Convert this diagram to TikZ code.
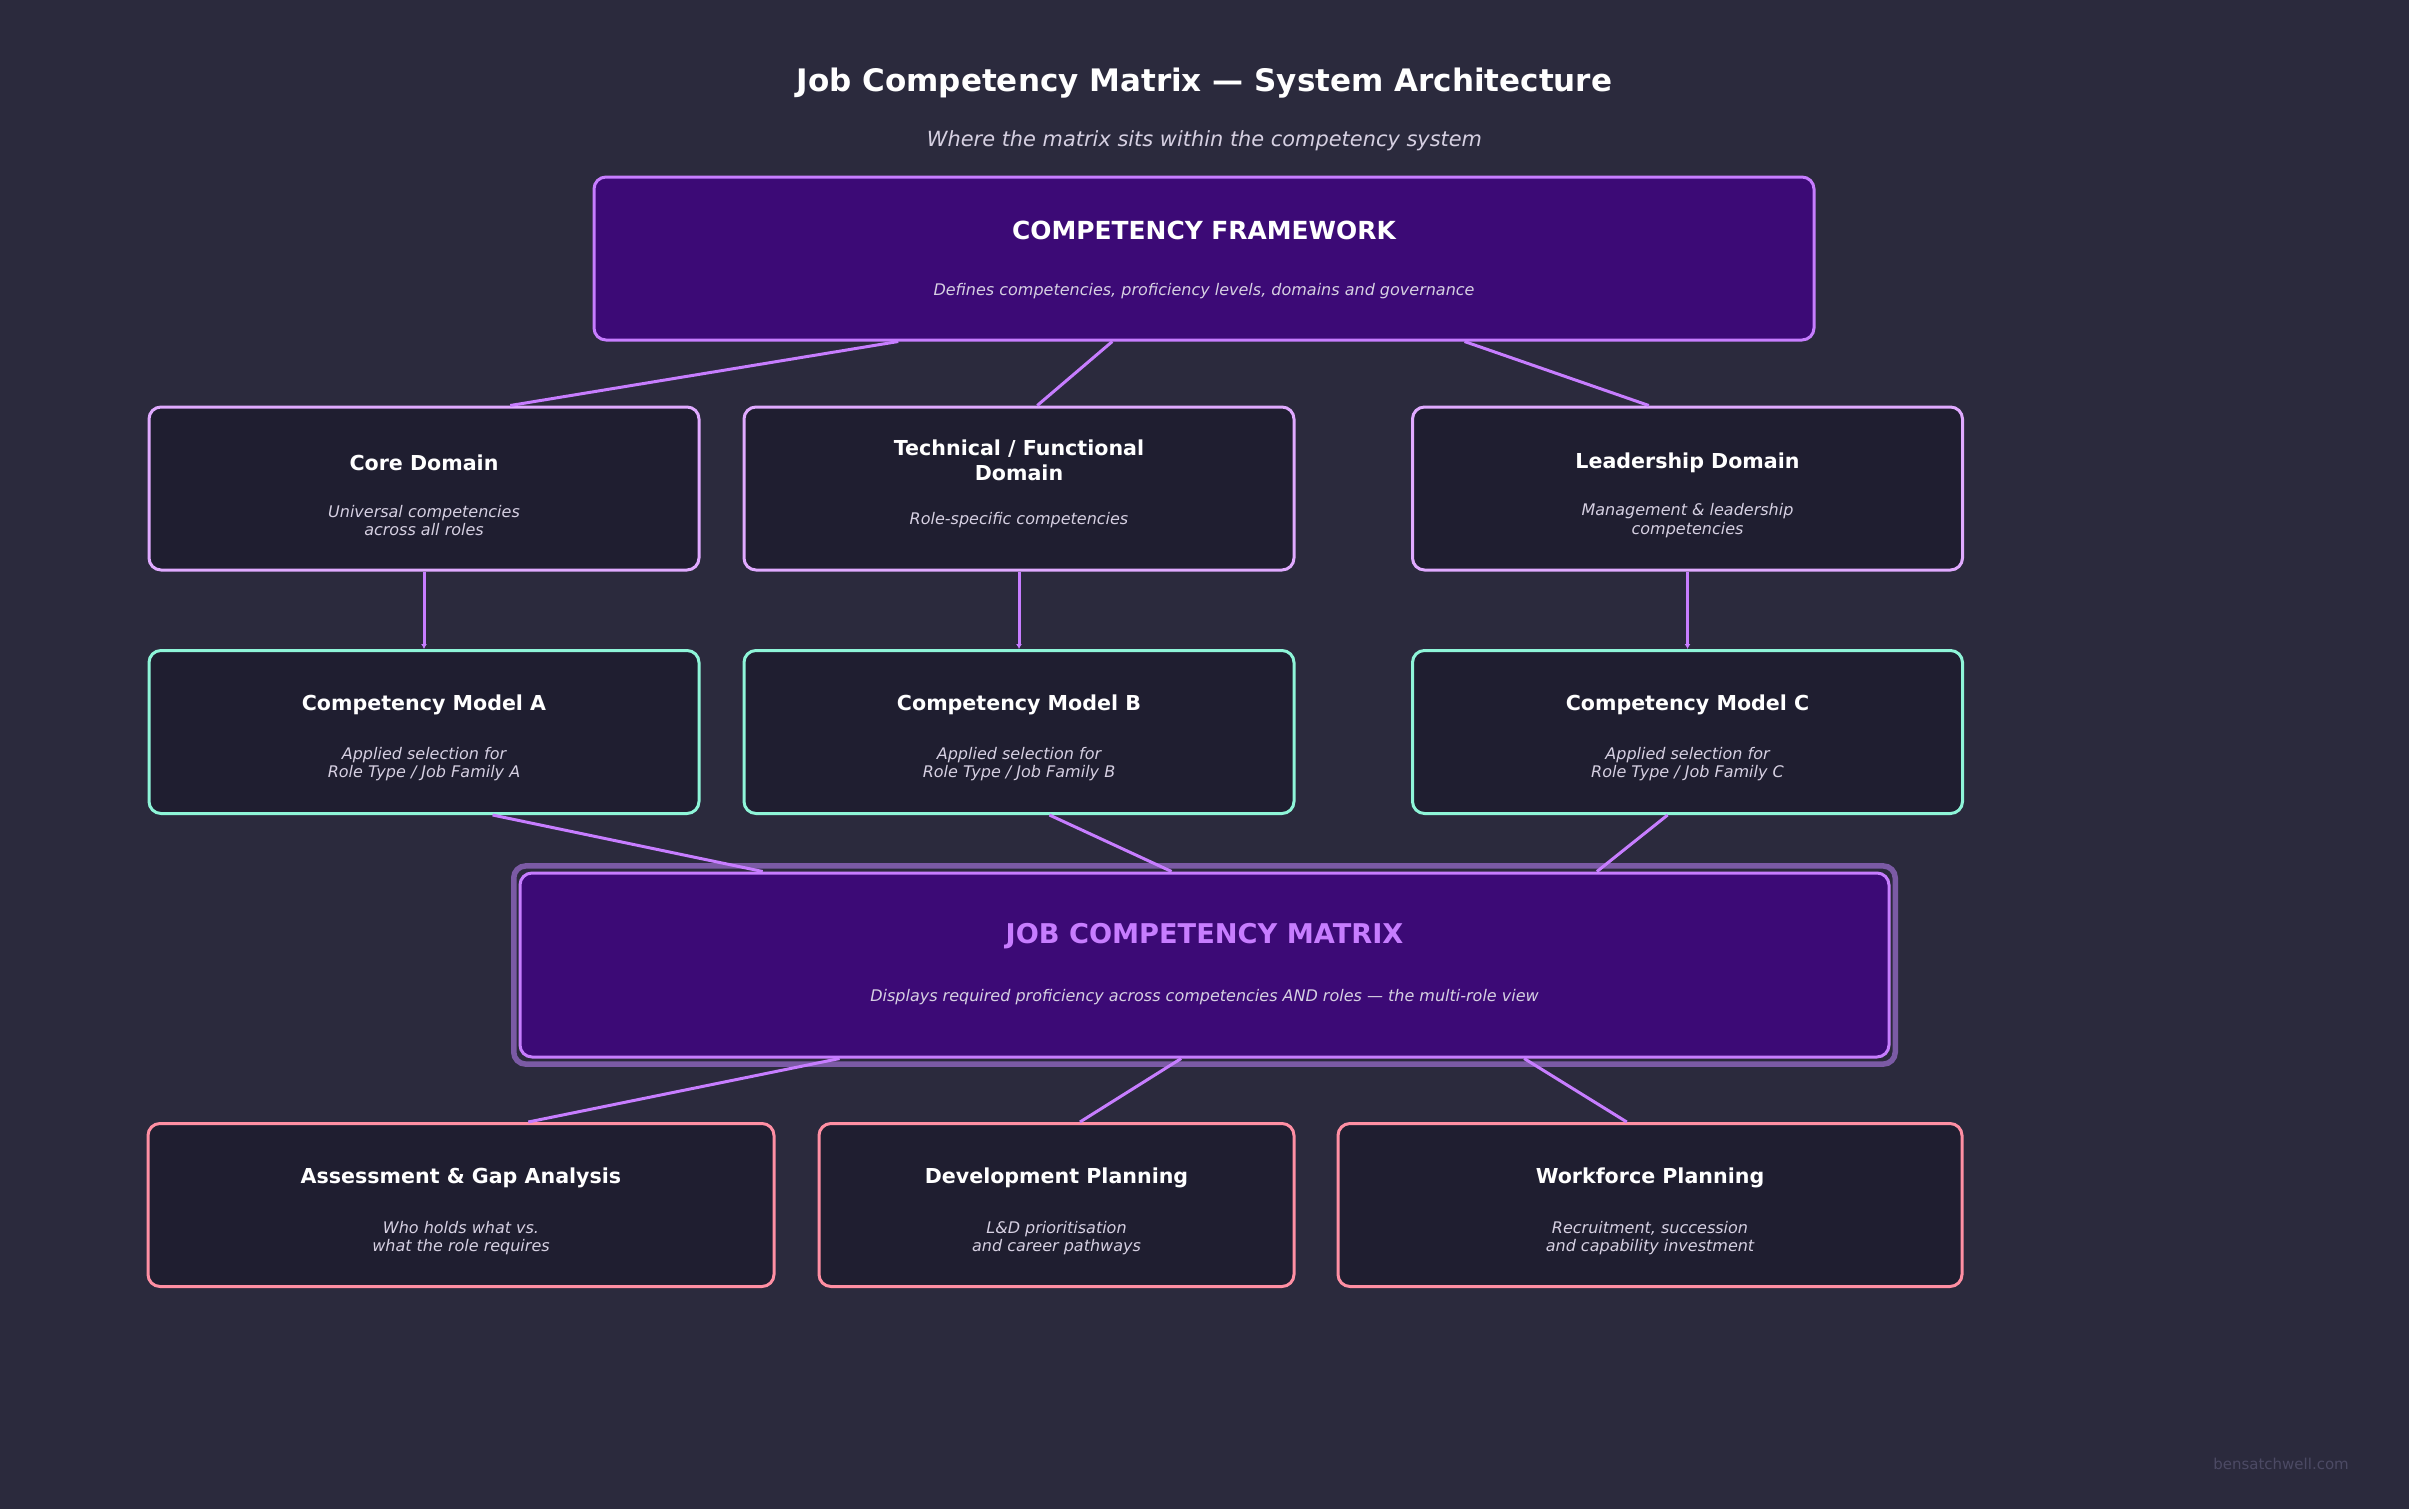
\documentclass[tikz,border=0pt]{standalone}
\usepackage{fontspec}
\setmainfont{DejaVu Sans}
\usetikzlibrary{arrows.meta,calc}
\definecolor{bg}{HTML}{2B2A3D}
\definecolor{boxfill}{HTML}{1F1E30}
\definecolor{deepfill}{HTML}{3C0A76}
\definecolor{purp}{HTML}{C77DFF}
\definecolor{lav}{HTML}{E0AAFF}
\definecolor{aqua}{HTML}{8EF5D8}
\definecolor{pink}{HTML}{FF8FA3}
\definecolor{glow}{HTML}{7B5AA5}
\definecolor{subtxt}{HTML}{D6D0E2}
\definecolor{wm}{HTML}{4C4A64}
\tikzset{
  box/.style={draw, rounded corners=6pt, line width=1.5pt, inner sep=0pt, fill=boxfill},
  fwbox/.style={box, draw=purp, fill=deepfill, minimum width=610pt, minimum height=81.5pt},
  dombox/.style={box, draw=lav, minimum width=275pt, minimum height=81.5pt},
  modbox/.style={box, draw=aqua, minimum width=275pt, minimum height=81.5pt},
  outbox/.style={box, draw=pink, minimum height=81.5pt},
  btitle/.style={text=white, font=\fontsize{10.3}{12.3}\selectfont\bfseries, align=center, inner sep=0pt},
  bsub/.style={text=subtxt, font=\fontsize{8}{9.3}\selectfont\itshape, align=center, inner sep=0pt},
  conn/.style={draw=purp, line width=1.5pt},
  arr/.style={conn, -{Latex[length=2.5pt,width=3pt]}}
}
\begin{document}
\begin{tikzpicture}[x=0.5pt,y=-0.5pt]
\fill[bg] (0,0) rectangle (2409,1509);
\useasboundingbox (0,0) rectangle (2409,1509);

\node[text=white, font=\fontsize{15.5}{18}\selectfont\bfseries, inner sep=0pt] (title) at (1204.5,83) {Job Competency Matrix — System Architecture};
\node[text=subtxt, font=\fontsize{10.45}{12}\selectfont\itshape, inner sep=0pt] (subtitle) at (1204.5,141) {Where the matrix sits within the competency system};

% framework
\node[fwbox] (fw) at (1204,258.5) {};
\node[text=white, font=\fontsize{12.45}{14}\selectfont\bfseries, inner sep=0pt] (fwt) at ($(fw.north)+(0,55)$) {COMPETENCY FRAMEWORK};
\node[bsub] (fws) at ($(fw.north)+(0,115.5)$) {Defines competencies, proficiency levels, domains and governance};

% domains
\node[dombox] (core) at (424,488.5) {};
\node[dombox] (tech) at (1019,488.5) {};
\node[dombox] (lead) at (1687.5,488.5) {};
\node[btitle] (coret) at ($(core.north)+(0,57)$) {Core Domain};
\node[bsub] (cores) at ($(core.north)+(0,115)$) {Universal competencies\\across all roles};
\node[btitle] (techt) at ($(tech.north)+(0,55)$) {Technical / Functional\\Domain};
\node[bsub] (techs) at ($(tech.north)+(0,115)$) {Role-specific competencies};
\node[btitle] (leadt) at ($(lead.north)+(0,57)$) {Leadership Domain};
\node[bsub] (leads) at ($(lead.north)+(0,115)$) {Management \& leadership\\competencies};

% models
\node[modbox] (ma) at (424,732) {};
\node[modbox] (mb) at (1019,732) {};
\node[modbox] (mc) at (1687.5,732) {};
\foreach \n/\l in {ma/A, mb/B, mc/C}{
  \node[btitle] (\n t) at ($(\n.north)+(0,56)$) {Competency Model \l};
  \node[bsub] (\n s) at ($(\n.north)+(0,115)$) {Applied selection for\\Role Type / Job Family \l};
}

% matrix
\node[box, draw=glow, fill=none, line width=2.75pt, rounded corners=6pt, minimum width=690.75pt, minimum height=99.1pt] (glowbox) at (1204.5,965) {};
\node[box, draw=purp, fill=deepfill, minimum width=684.5pt, minimum height=92pt] (mx) at (1204.5,965) {};
\node[text=purp, font=\fontsize{13.6}{16}\selectfont\bfseries, inner sep=0pt] (mxt) at ($(mx.north)+(0,65)$) {JOB COMPETENCY MATRIX};
\node[bsub] (mxs) at ($(mx.north)+(0,126)$) {Displays required proficiency across competencies AND roles — the multi-role view};

% outputs
\node[outbox, minimum width=313pt] (as) at (461,1205) {};
\node[outbox, minimum width=237.5pt] (dev) at (1056.5,1205) {};
\node[outbox, minimum width=312pt] (wf) at (1650,1205) {};
\node[btitle] (ast) at ($(as.north)+(0,56)$) {Assessment \& Gap Analysis};
\node[bsub] (ass) at ($(as.north)+(0,116)$) {Who holds what vs.\\what the role requires};
\node[btitle] (devt) at ($(dev.north)+(0,56)$) {Development Planning};
\node[bsub] (devs) at ($(dev.north)+(0,116)$) {L\&D prioritisation\\and career pathways};
\node[btitle] (wft) at ($(wf.north)+(0,56)$) {Workforce Planning};
\node[bsub] (wfs) at ($(wf.north)+(0,116)$) {Recruitment, succession\\and capability investment};

% connectors
\draw[conn] ($(fw.south west)!0.25!(fw.south east)$) -- ($(core.north west)!0.656!(core.north east)$);
\draw[conn] ($(fw.south west)!0.425!(fw.south east)$) -- ($(tech.north west)!0.533!(tech.north east)$);
\draw[conn] ($(fw.south west)!0.713!(fw.south east)$) -- ($(lead.north west)!0.43!(lead.north east)$);
\draw[arr] (core.south) -- (ma.north);
\draw[arr] (tech.south) -- (mb.north);
\draw[arr] (lead.south) -- (mc.north);
\draw[conn] ($(ma.south west)!0.624!(ma.south east)$) -- ($(mx.north west)!0.178!(mx.north east)$);
\draw[conn] ($(mb.south west)!0.555!(mb.south east)$) -- ($(mx.north west)!0.476!(mx.north east)$);
\draw[conn] ($(mc.south west)!0.464!(mc.south east)$) -- ($(mx.north west)!0.786!(mx.north east)$);
\draw[conn] ($(mx.south west)!0.234!(mx.south east)$) -- ($(as.north west)!0.607!(as.north east)$);
\draw[conn] ($(mx.south west)!0.483!(mx.south east)$) -- ($(dev.north west)!0.549!(dev.north east)$);
\draw[conn] ($(mx.south west)!0.733!(mx.south east)$) -- ($(wf.north west)!0.463!(wf.north east)$);

\node[text=wm, font=\fontsize{7.5}{8}\selectfont, inner sep=0pt] (wmark) at (2281,1464) {bensatchwell.com};
\end{tikzpicture}
\end{document}
